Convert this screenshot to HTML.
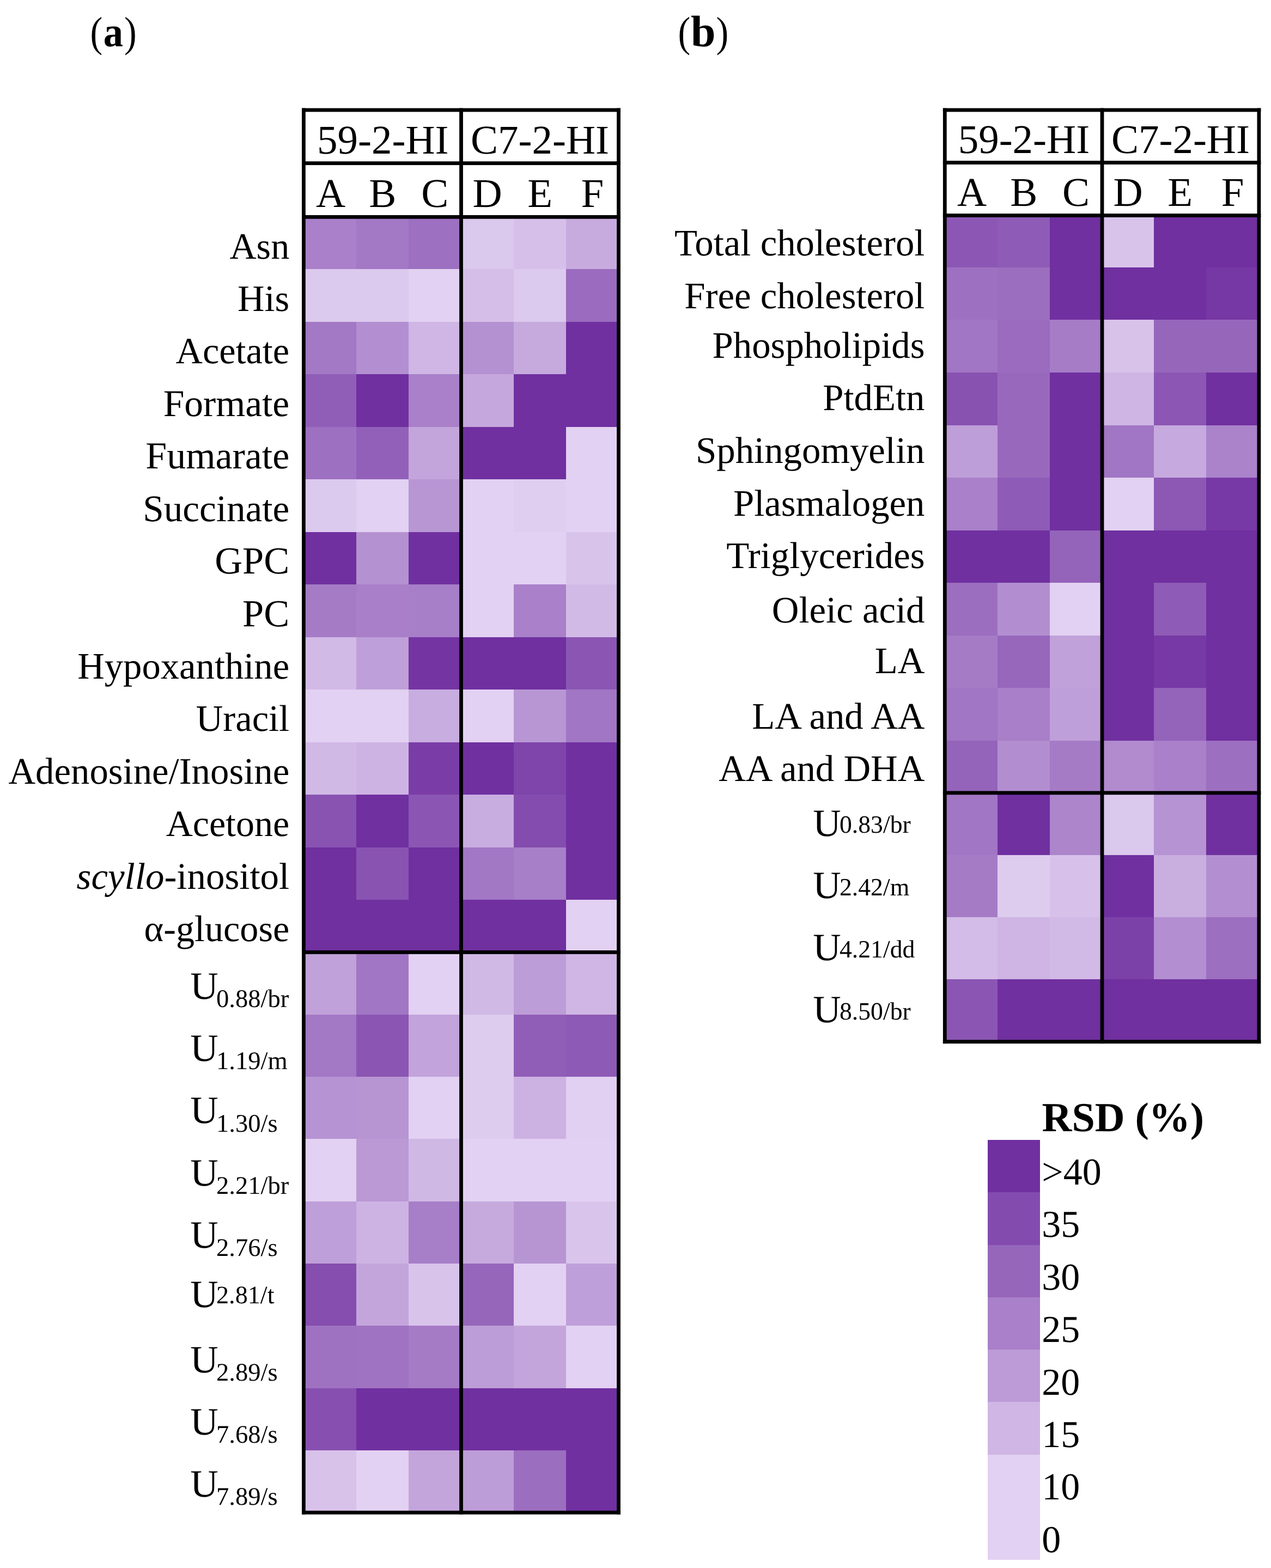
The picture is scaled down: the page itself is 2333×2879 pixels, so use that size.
<!DOCTYPE html>
<html lang="en">
<head>
<meta charset="utf-8">
<title>RSD heat maps</title>
<style>
html,body{margin:0;padding:0;background:#fff;}
body{width:2333px;height:2879px;overflow:hidden;}
svg{display:block;}
svg text{font-family:"Liberation Serif", "DejaVu Serif", serif;fill:#000;}
</style>
</head>
<body>
<svg width="2333" height="2879" viewBox="0 0 2333 2879" text-rendering="geometricPrecision">
<rect x="557.40" y="397.50" width="97.10" height="97.10" fill="#A980C9" shape-rendering="crispEdges"/>
<rect x="653.90" y="397.50" width="96.50" height="97.10" fill="#A378C5" shape-rendering="crispEdges"/>
<rect x="749.80" y="397.50" width="97.30" height="97.10" fill="#9E70C1" shape-rendering="crispEdges"/>
<rect x="846.50" y="397.50" width="97.00" height="97.10" fill="#DBC8ED" shape-rendering="crispEdges"/>
<rect x="942.90" y="397.50" width="96.90" height="97.10" fill="#D6C0E9" shape-rendering="crispEdges"/>
<rect x="1039.20" y="397.50" width="96.90" height="97.10" fill="#C7ABDF" shape-rendering="crispEdges"/>
<rect x="557.40" y="494.00" width="97.10" height="97.10" fill="#DCC9EE" shape-rendering="crispEdges"/>
<rect x="653.90" y="494.00" width="96.50" height="97.10" fill="#DCC9EE" shape-rendering="crispEdges"/>
<rect x="749.80" y="494.00" width="97.30" height="97.10" fill="#E2D1F2" shape-rendering="crispEdges"/>
<rect x="846.50" y="494.00" width="97.00" height="97.10" fill="#D5BEE8" shape-rendering="crispEdges"/>
<rect x="942.90" y="494.00" width="96.90" height="97.10" fill="#DCC9EE" shape-rendering="crispEdges"/>
<rect x="1039.20" y="494.00" width="96.90" height="97.10" fill="#9A6BBE" shape-rendering="crispEdges"/>
<rect x="557.40" y="590.50" width="97.10" height="97.10" fill="#A378C5" shape-rendering="crispEdges"/>
<rect x="653.90" y="590.50" width="96.50" height="97.10" fill="#B38FD1" shape-rendering="crispEdges"/>
<rect x="749.80" y="590.50" width="97.30" height="97.10" fill="#CFB6E4" shape-rendering="crispEdges"/>
<rect x="846.50" y="590.50" width="97.00" height="97.10" fill="#B491D1" shape-rendering="crispEdges"/>
<rect x="942.90" y="590.50" width="96.90" height="97.10" fill="#C6AADE" shape-rendering="crispEdges"/>
<rect x="1039.20" y="590.50" width="96.90" height="97.10" fill="#7030A0" shape-rendering="crispEdges"/>
<rect x="557.40" y="687.00" width="97.10" height="97.10" fill="#905EB7" shape-rendering="crispEdges"/>
<rect x="653.90" y="687.00" width="96.50" height="97.10" fill="#7030A0" shape-rendering="crispEdges"/>
<rect x="749.80" y="687.00" width="97.30" height="97.10" fill="#A980C9" shape-rendering="crispEdges"/>
<rect x="846.50" y="687.00" width="97.00" height="97.10" fill="#C5A7DD" shape-rendering="crispEdges"/>
<rect x="942.90" y="687.00" width="96.90" height="97.10" fill="#7030A0" shape-rendering="crispEdges"/>
<rect x="1039.20" y="687.00" width="96.90" height="97.10" fill="#7030A0" shape-rendering="crispEdges"/>
<rect x="557.40" y="783.50" width="97.10" height="97.10" fill="#9E70C1" shape-rendering="crispEdges"/>
<rect x="653.90" y="783.50" width="96.50" height="97.10" fill="#9260B9" shape-rendering="crispEdges"/>
<rect x="749.80" y="783.50" width="97.30" height="97.10" fill="#C3A5DB" shape-rendering="crispEdges"/>
<rect x="846.50" y="783.50" width="97.00" height="97.10" fill="#7030A0" shape-rendering="crispEdges"/>
<rect x="942.90" y="783.50" width="96.90" height="97.10" fill="#7030A0" shape-rendering="crispEdges"/>
<rect x="1039.20" y="783.50" width="96.90" height="97.10" fill="#E2D1F2" shape-rendering="crispEdges"/>
<rect x="557.40" y="880.00" width="97.10" height="97.10" fill="#DCC9EE" shape-rendering="crispEdges"/>
<rect x="653.90" y="880.00" width="96.50" height="97.10" fill="#E2D1F2" shape-rendering="crispEdges"/>
<rect x="749.80" y="880.00" width="97.30" height="97.10" fill="#B896D4" shape-rendering="crispEdges"/>
<rect x="846.50" y="880.00" width="97.00" height="97.10" fill="#E2D1F2" shape-rendering="crispEdges"/>
<rect x="942.90" y="880.00" width="96.90" height="97.10" fill="#E0CEF1" shape-rendering="crispEdges"/>
<rect x="1039.20" y="880.00" width="96.90" height="97.10" fill="#E2D1F2" shape-rendering="crispEdges"/>
<rect x="557.40" y="976.50" width="97.10" height="97.10" fill="#7030A0" shape-rendering="crispEdges"/>
<rect x="653.90" y="976.50" width="96.50" height="97.10" fill="#B491D1" shape-rendering="crispEdges"/>
<rect x="749.80" y="976.50" width="97.30" height="97.10" fill="#7030A0" shape-rendering="crispEdges"/>
<rect x="846.50" y="976.50" width="97.00" height="97.10" fill="#E2D1F2" shape-rendering="crispEdges"/>
<rect x="942.90" y="976.50" width="96.90" height="97.10" fill="#E2D1F2" shape-rendering="crispEdges"/>
<rect x="1039.20" y="976.50" width="96.90" height="97.10" fill="#D8C4EB" shape-rendering="crispEdges"/>
<rect x="557.40" y="1073.00" width="97.10" height="97.10" fill="#A57BC6" shape-rendering="crispEdges"/>
<rect x="653.90" y="1073.00" width="96.50" height="97.10" fill="#A87FC8" shape-rendering="crispEdges"/>
<rect x="749.80" y="1073.00" width="97.30" height="97.10" fill="#A77EC8" shape-rendering="crispEdges"/>
<rect x="846.50" y="1073.00" width="97.00" height="97.10" fill="#E2D1F2" shape-rendering="crispEdges"/>
<rect x="942.90" y="1073.00" width="96.90" height="97.10" fill="#A980C9" shape-rendering="crispEdges"/>
<rect x="1039.20" y="1073.00" width="96.90" height="97.10" fill="#D2BAE6" shape-rendering="crispEdges"/>
<rect x="557.40" y="1169.50" width="97.10" height="97.10" fill="#D2BAE6" shape-rendering="crispEdges"/>
<rect x="653.90" y="1169.50" width="96.50" height="97.10" fill="#BF9FD9" shape-rendering="crispEdges"/>
<rect x="749.80" y="1169.50" width="97.30" height="97.10" fill="#7435A3" shape-rendering="crispEdges"/>
<rect x="846.50" y="1169.50" width="97.00" height="97.10" fill="#7030A0" shape-rendering="crispEdges"/>
<rect x="942.90" y="1169.50" width="96.90" height="97.10" fill="#7030A0" shape-rendering="crispEdges"/>
<rect x="1039.20" y="1169.50" width="96.90" height="97.10" fill="#8B56B3" shape-rendering="crispEdges"/>
<rect x="557.40" y="1266.00" width="97.10" height="97.10" fill="#E2D1F2" shape-rendering="crispEdges"/>
<rect x="653.90" y="1266.00" width="96.50" height="97.10" fill="#E2D1F2" shape-rendering="crispEdges"/>
<rect x="749.80" y="1266.00" width="97.30" height="97.10" fill="#C8ADE0" shape-rendering="crispEdges"/>
<rect x="846.50" y="1266.00" width="97.00" height="97.10" fill="#E2D1F2" shape-rendering="crispEdges"/>
<rect x="942.90" y="1266.00" width="96.90" height="97.10" fill="#B896D4" shape-rendering="crispEdges"/>
<rect x="1039.20" y="1266.00" width="96.90" height="97.10" fill="#A176C4" shape-rendering="crispEdges"/>
<rect x="557.40" y="1362.50" width="97.10" height="97.10" fill="#D1B9E6" shape-rendering="crispEdges"/>
<rect x="653.90" y="1362.50" width="96.50" height="97.10" fill="#CDB3E3" shape-rendering="crispEdges"/>
<rect x="749.80" y="1362.50" width="97.30" height="97.10" fill="#7A3DA7" shape-rendering="crispEdges"/>
<rect x="846.50" y="1362.50" width="97.00" height="97.10" fill="#7030A0" shape-rendering="crispEdges"/>
<rect x="942.90" y="1362.50" width="96.90" height="97.10" fill="#7F45AB" shape-rendering="crispEdges"/>
<rect x="1039.20" y="1362.50" width="96.90" height="97.10" fill="#7030A0" shape-rendering="crispEdges"/>
<rect x="557.40" y="1459.00" width="97.10" height="97.10" fill="#8953B2" shape-rendering="crispEdges"/>
<rect x="653.90" y="1459.00" width="96.50" height="97.10" fill="#7030A0" shape-rendering="crispEdges"/>
<rect x="749.80" y="1459.00" width="97.30" height="97.10" fill="#8B56B3" shape-rendering="crispEdges"/>
<rect x="846.50" y="1459.00" width="97.00" height="97.10" fill="#C8ADE0" shape-rendering="crispEdges"/>
<rect x="942.90" y="1459.00" width="96.90" height="97.10" fill="#844CAE" shape-rendering="crispEdges"/>
<rect x="1039.20" y="1459.00" width="96.90" height="97.10" fill="#7030A0" shape-rendering="crispEdges"/>
<rect x="557.40" y="1555.50" width="97.10" height="97.10" fill="#7030A0" shape-rendering="crispEdges"/>
<rect x="653.90" y="1555.50" width="96.50" height="97.10" fill="#8953B2" shape-rendering="crispEdges"/>
<rect x="749.80" y="1555.50" width="97.30" height="97.10" fill="#7030A0" shape-rendering="crispEdges"/>
<rect x="846.50" y="1555.50" width="97.00" height="97.10" fill="#A277C4" shape-rendering="crispEdges"/>
<rect x="942.90" y="1555.50" width="96.90" height="97.10" fill="#A77EC8" shape-rendering="crispEdges"/>
<rect x="1039.20" y="1555.50" width="96.90" height="97.10" fill="#7030A0" shape-rendering="crispEdges"/>
<rect x="557.40" y="1652.00" width="97.10" height="97.10" fill="#7030A0" shape-rendering="crispEdges"/>
<rect x="653.90" y="1652.00" width="96.50" height="97.10" fill="#7030A0" shape-rendering="crispEdges"/>
<rect x="749.80" y="1652.00" width="97.30" height="97.10" fill="#7030A0" shape-rendering="crispEdges"/>
<rect x="846.50" y="1652.00" width="97.00" height="97.10" fill="#7030A0" shape-rendering="crispEdges"/>
<rect x="942.90" y="1652.00" width="96.90" height="97.10" fill="#7030A0" shape-rendering="crispEdges"/>
<rect x="1039.20" y="1652.00" width="96.90" height="97.10" fill="#E2D1F2" shape-rendering="crispEdges"/>
<rect x="557.40" y="1748.40" width="97.10" height="114.90" fill="#C0A1D9" shape-rendering="crispEdges"/>
<rect x="653.90" y="1748.40" width="96.50" height="114.90" fill="#A176C4" shape-rendering="crispEdges"/>
<rect x="749.80" y="1748.40" width="97.30" height="114.90" fill="#E2D1F2" shape-rendering="crispEdges"/>
<rect x="846.50" y="1748.40" width="97.00" height="114.90" fill="#D1B9E6" shape-rendering="crispEdges"/>
<rect x="942.90" y="1748.40" width="96.90" height="114.90" fill="#BD9DD7" shape-rendering="crispEdges"/>
<rect x="1039.20" y="1748.40" width="96.90" height="114.90" fill="#CFB6E4" shape-rendering="crispEdges"/>
<rect x="557.40" y="1862.70" width="97.10" height="114.90" fill="#A378C5" shape-rendering="crispEdges"/>
<rect x="653.90" y="1862.70" width="96.50" height="114.90" fill="#8B56B3" shape-rendering="crispEdges"/>
<rect x="749.80" y="1862.70" width="97.30" height="114.90" fill="#C2A3DB" shape-rendering="crispEdges"/>
<rect x="846.50" y="1862.70" width="97.00" height="114.90" fill="#DECCEF" shape-rendering="crispEdges"/>
<rect x="942.90" y="1862.70" width="96.90" height="114.90" fill="#905EB7" shape-rendering="crispEdges"/>
<rect x="1039.20" y="1862.70" width="96.90" height="114.90" fill="#8D5AB5" shape-rendering="crispEdges"/>
<rect x="557.40" y="1977.00" width="97.10" height="114.90" fill="#B693D3" shape-rendering="crispEdges"/>
<rect x="653.90" y="1977.00" width="96.50" height="114.90" fill="#B795D3" shape-rendering="crispEdges"/>
<rect x="749.80" y="1977.00" width="97.30" height="114.90" fill="#E2D1F2" shape-rendering="crispEdges"/>
<rect x="846.50" y="1977.00" width="97.00" height="114.90" fill="#DECCEF" shape-rendering="crispEdges"/>
<rect x="942.90" y="1977.00" width="96.90" height="114.90" fill="#CCB2E2" shape-rendering="crispEdges"/>
<rect x="1039.20" y="1977.00" width="96.90" height="114.90" fill="#E1D0F1" shape-rendering="crispEdges"/>
<rect x="557.40" y="2091.30" width="97.10" height="114.90" fill="#E2D1F2" shape-rendering="crispEdges"/>
<rect x="653.90" y="2091.30" width="96.50" height="114.90" fill="#BA99D5" shape-rendering="crispEdges"/>
<rect x="749.80" y="2091.30" width="97.30" height="114.90" fill="#D0B8E5" shape-rendering="crispEdges"/>
<rect x="846.50" y="2091.30" width="97.00" height="114.90" fill="#E2D1F2" shape-rendering="crispEdges"/>
<rect x="942.90" y="2091.30" width="96.90" height="114.90" fill="#E2D1F2" shape-rendering="crispEdges"/>
<rect x="1039.20" y="2091.30" width="96.90" height="114.90" fill="#E2D1F2" shape-rendering="crispEdges"/>
<rect x="557.40" y="2205.60" width="97.10" height="114.90" fill="#BF9FD9" shape-rendering="crispEdges"/>
<rect x="653.90" y="2205.60" width="96.50" height="114.90" fill="#CDB3E3" shape-rendering="crispEdges"/>
<rect x="749.80" y="2205.60" width="97.30" height="114.90" fill="#A77EC8" shape-rendering="crispEdges"/>
<rect x="846.50" y="2205.60" width="97.00" height="114.90" fill="#C6AADE" shape-rendering="crispEdges"/>
<rect x="942.90" y="2205.60" width="96.90" height="114.90" fill="#B795D3" shape-rendering="crispEdges"/>
<rect x="1039.20" y="2205.60" width="96.90" height="114.90" fill="#D9C5EC" shape-rendering="crispEdges"/>
<rect x="557.40" y="2319.90" width="97.10" height="114.90" fill="#854EAF" shape-rendering="crispEdges"/>
<rect x="653.90" y="2319.90" width="96.50" height="114.90" fill="#C3A5DB" shape-rendering="crispEdges"/>
<rect x="749.80" y="2319.90" width="97.30" height="114.90" fill="#D8C4EB" shape-rendering="crispEdges"/>
<rect x="846.50" y="2319.90" width="97.00" height="114.90" fill="#9666BB" shape-rendering="crispEdges"/>
<rect x="942.90" y="2319.90" width="96.90" height="114.90" fill="#E2D1F2" shape-rendering="crispEdges"/>
<rect x="1039.20" y="2319.90" width="96.90" height="114.90" fill="#BF9FD9" shape-rendering="crispEdges"/>
<rect x="557.40" y="2434.20" width="97.10" height="114.90" fill="#9F72C1" shape-rendering="crispEdges"/>
<rect x="653.90" y="2434.20" width="96.50" height="114.90" fill="#A073C2" shape-rendering="crispEdges"/>
<rect x="749.80" y="2434.20" width="97.30" height="114.90" fill="#A57BC6" shape-rendering="crispEdges"/>
<rect x="846.50" y="2434.20" width="97.00" height="114.90" fill="#BD9DD7" shape-rendering="crispEdges"/>
<rect x="942.90" y="2434.20" width="96.90" height="114.90" fill="#C3A5DB" shape-rendering="crispEdges"/>
<rect x="1039.20" y="2434.20" width="96.90" height="114.90" fill="#E2D1F2" shape-rendering="crispEdges"/>
<rect x="557.40" y="2548.50" width="97.10" height="114.90" fill="#8750B0" shape-rendering="crispEdges"/>
<rect x="653.90" y="2548.50" width="96.50" height="114.90" fill="#7030A0" shape-rendering="crispEdges"/>
<rect x="749.80" y="2548.50" width="97.30" height="114.90" fill="#7030A0" shape-rendering="crispEdges"/>
<rect x="846.50" y="2548.50" width="97.00" height="114.90" fill="#7030A0" shape-rendering="crispEdges"/>
<rect x="942.90" y="2548.50" width="96.90" height="114.90" fill="#7030A0" shape-rendering="crispEdges"/>
<rect x="1039.20" y="2548.50" width="96.90" height="114.90" fill="#7030A0" shape-rendering="crispEdges"/>
<rect x="557.40" y="2662.80" width="97.10" height="114.90" fill="#D8C2EA" shape-rendering="crispEdges"/>
<rect x="653.90" y="2662.80" width="96.50" height="114.90" fill="#E2D1F2" shape-rendering="crispEdges"/>
<rect x="749.80" y="2662.80" width="97.30" height="114.90" fill="#C3A5DB" shape-rendering="crispEdges"/>
<rect x="846.50" y="2662.80" width="97.00" height="114.90" fill="#BD9DD7" shape-rendering="crispEdges"/>
<rect x="942.90" y="2662.80" width="96.90" height="114.90" fill="#9C6EBF" shape-rendering="crispEdges"/>
<rect x="1039.20" y="2662.80" width="96.90" height="114.90" fill="#7030A0" shape-rendering="crispEdges"/>
<rect x="557.40" y="202.00" width="578.10" height="196.40" fill="#fff" shape-rendering="crispEdges"/>
<rect x="554.00" y="198.60" width="584.90" height="6.80" fill="#000"/>
<rect x="554.00" y="296.30" width="584.90" height="6.80" fill="#000"/>
<rect x="554.00" y="395.00" width="584.90" height="6.80" fill="#000"/>
<rect x="554.00" y="1745.00" width="584.90" height="6.80" fill="#000"/>
<rect x="554.00" y="2773.80" width="584.90" height="6.80" fill="#000"/>
<rect x="554.00" y="198.60" width="6.80" height="2582.00" fill="#000"/>
<rect x="843.10" y="198.60" width="6.80" height="2582.00" fill="#000"/>
<rect x="1132.10" y="198.60" width="6.80" height="2582.00" fill="#000"/>
<text x="702.75" y="282.00" font-size="75.00" text-anchor="middle">59-2-HI</text>
<text x="991.00" y="282.00" font-size="75.00" text-anchor="middle">C7-2-HI</text>
<text x="607.05" y="380.00" font-size="75.00" text-anchor="middle">A</text>
<text x="702.15" y="380.00" font-size="75.00" text-anchor="middle">B</text>
<text x="798.15" y="380.00" font-size="75.00" text-anchor="middle">C</text>
<text x="894.70" y="380.00" font-size="75.00" text-anchor="middle">D</text>
<text x="991.05" y="380.00" font-size="75.00" text-anchor="middle">E</text>
<text x="1087.35" y="380.00" font-size="75.00" text-anchor="middle">F</text>
<rect x="1734.30" y="394.30" width="97.20" height="97.15" fill="#8C57B4" shape-rendering="crispEdges"/>
<rect x="1830.90" y="394.30" width="96.70" height="97.15" fill="#8E5BB6" shape-rendering="crispEdges"/>
<rect x="1927.00" y="394.30" width="96.60" height="97.15" fill="#7030A0" shape-rendering="crispEdges"/>
<rect x="2023.00" y="394.30" width="95.80" height="97.15" fill="#D8C4EB" shape-rendering="crispEdges"/>
<rect x="2118.20" y="394.30" width="96.70" height="97.15" fill="#7030A0" shape-rendering="crispEdges"/>
<rect x="2214.30" y="394.30" width="97.20" height="97.15" fill="#7030A0" shape-rendering="crispEdges"/>
<rect x="1734.30" y="490.85" width="97.20" height="97.15" fill="#9E70C1" shape-rendering="crispEdges"/>
<rect x="1830.90" y="490.85" width="96.70" height="97.15" fill="#9C6EBF" shape-rendering="crispEdges"/>
<rect x="1927.00" y="490.85" width="96.60" height="97.15" fill="#7030A0" shape-rendering="crispEdges"/>
<rect x="2023.00" y="490.85" width="95.80" height="97.15" fill="#7030A0" shape-rendering="crispEdges"/>
<rect x="2118.20" y="490.85" width="96.70" height="97.15" fill="#7030A0" shape-rendering="crispEdges"/>
<rect x="2214.30" y="490.85" width="97.20" height="97.15" fill="#7638A4" shape-rendering="crispEdges"/>
<rect x="1734.30" y="587.40" width="97.20" height="97.15" fill="#A176C4" shape-rendering="crispEdges"/>
<rect x="1830.90" y="587.40" width="96.70" height="97.15" fill="#9A6BBE" shape-rendering="crispEdges"/>
<rect x="1927.00" y="587.40" width="96.60" height="97.15" fill="#A67CC7" shape-rendering="crispEdges"/>
<rect x="2023.00" y="587.40" width="95.80" height="97.15" fill="#D8C2EA" shape-rendering="crispEdges"/>
<rect x="2118.20" y="587.40" width="96.70" height="97.15" fill="#9666BB" shape-rendering="crispEdges"/>
<rect x="2214.30" y="587.40" width="97.20" height="97.15" fill="#9666BB" shape-rendering="crispEdges"/>
<rect x="1734.30" y="683.95" width="97.20" height="97.15" fill="#8852B1" shape-rendering="crispEdges"/>
<rect x="1830.90" y="683.95" width="96.70" height="97.15" fill="#9868BD" shape-rendering="crispEdges"/>
<rect x="1927.00" y="683.95" width="96.60" height="97.15" fill="#7030A0" shape-rendering="crispEdges"/>
<rect x="2023.00" y="683.95" width="95.80" height="97.15" fill="#CEB5E4" shape-rendering="crispEdges"/>
<rect x="2118.20" y="683.95" width="96.70" height="97.15" fill="#8C57B4" shape-rendering="crispEdges"/>
<rect x="2214.30" y="683.95" width="97.20" height="97.15" fill="#7030A0" shape-rendering="crispEdges"/>
<rect x="1734.30" y="780.50" width="97.20" height="97.15" fill="#BE9ED8" shape-rendering="crispEdges"/>
<rect x="1830.90" y="780.50" width="96.70" height="97.15" fill="#9868BD" shape-rendering="crispEdges"/>
<rect x="1927.00" y="780.50" width="96.60" height="97.15" fill="#7030A0" shape-rendering="crispEdges"/>
<rect x="2023.00" y="780.50" width="95.80" height="97.15" fill="#A176C4" shape-rendering="crispEdges"/>
<rect x="2118.20" y="780.50" width="96.70" height="97.15" fill="#C6A9DE" shape-rendering="crispEdges"/>
<rect x="2214.30" y="780.50" width="97.20" height="97.15" fill="#AB83CA" shape-rendering="crispEdges"/>
<rect x="1734.30" y="877.05" width="97.20" height="97.15" fill="#A980C9" shape-rendering="crispEdges"/>
<rect x="1830.90" y="877.05" width="96.70" height="97.15" fill="#8E5BB6" shape-rendering="crispEdges"/>
<rect x="1927.00" y="877.05" width="96.60" height="97.15" fill="#7030A0" shape-rendering="crispEdges"/>
<rect x="2023.00" y="877.05" width="95.80" height="97.15" fill="#E2D1F2" shape-rendering="crispEdges"/>
<rect x="2118.20" y="877.05" width="96.70" height="97.15" fill="#8C58B4" shape-rendering="crispEdges"/>
<rect x="2214.30" y="877.05" width="97.20" height="97.15" fill="#7739A5" shape-rendering="crispEdges"/>
<rect x="1734.30" y="973.60" width="97.20" height="97.15" fill="#7030A0" shape-rendering="crispEdges"/>
<rect x="1830.90" y="973.60" width="96.70" height="97.15" fill="#7030A0" shape-rendering="crispEdges"/>
<rect x="1927.00" y="973.60" width="96.60" height="97.15" fill="#9463BA" shape-rendering="crispEdges"/>
<rect x="2023.00" y="973.60" width="95.80" height="97.15" fill="#7030A0" shape-rendering="crispEdges"/>
<rect x="2118.20" y="973.60" width="96.70" height="97.15" fill="#7030A0" shape-rendering="crispEdges"/>
<rect x="2214.30" y="973.60" width="97.20" height="97.15" fill="#7030A0" shape-rendering="crispEdges"/>
<rect x="1734.30" y="1070.15" width="97.20" height="97.15" fill="#9C6EBF" shape-rendering="crispEdges"/>
<rect x="1830.90" y="1070.15" width="96.70" height="97.15" fill="#B28ED0" shape-rendering="crispEdges"/>
<rect x="1927.00" y="1070.15" width="96.60" height="97.15" fill="#E2D1F2" shape-rendering="crispEdges"/>
<rect x="2023.00" y="1070.15" width="95.80" height="97.15" fill="#7030A0" shape-rendering="crispEdges"/>
<rect x="2118.20" y="1070.15" width="96.70" height="97.15" fill="#8E5BB6" shape-rendering="crispEdges"/>
<rect x="2214.30" y="1070.15" width="97.20" height="97.15" fill="#7030A0" shape-rendering="crispEdges"/>
<rect x="1734.30" y="1166.70" width="97.20" height="97.15" fill="#A57BC6" shape-rendering="crispEdges"/>
<rect x="1830.90" y="1166.70" width="96.70" height="97.15" fill="#9767BC" shape-rendering="crispEdges"/>
<rect x="1927.00" y="1166.70" width="96.60" height="97.15" fill="#C0A1D9" shape-rendering="crispEdges"/>
<rect x="2023.00" y="1166.70" width="95.80" height="97.15" fill="#7030A0" shape-rendering="crispEdges"/>
<rect x="2118.20" y="1166.70" width="96.70" height="97.15" fill="#7739A5" shape-rendering="crispEdges"/>
<rect x="2214.30" y="1166.70" width="97.20" height="97.15" fill="#7030A0" shape-rendering="crispEdges"/>
<rect x="1734.30" y="1263.25" width="97.20" height="97.15" fill="#A176C4" shape-rendering="crispEdges"/>
<rect x="1830.90" y="1263.25" width="96.70" height="97.15" fill="#A87FC8" shape-rendering="crispEdges"/>
<rect x="1927.00" y="1263.25" width="96.60" height="97.15" fill="#BF9FD9" shape-rendering="crispEdges"/>
<rect x="2023.00" y="1263.25" width="95.80" height="97.15" fill="#7030A0" shape-rendering="crispEdges"/>
<rect x="2118.20" y="1263.25" width="96.70" height="97.15" fill="#9463BA" shape-rendering="crispEdges"/>
<rect x="2214.30" y="1263.25" width="97.20" height="97.15" fill="#7030A0" shape-rendering="crispEdges"/>
<rect x="1734.30" y="1359.80" width="97.20" height="97.15" fill="#9463BA" shape-rendering="crispEdges"/>
<rect x="1830.90" y="1359.80" width="96.70" height="97.15" fill="#B28ED0" shape-rendering="crispEdges"/>
<rect x="1927.00" y="1359.80" width="96.60" height="97.15" fill="#A57BC6" shape-rendering="crispEdges"/>
<rect x="2023.00" y="1359.80" width="95.80" height="97.15" fill="#B18BCE" shape-rendering="crispEdges"/>
<rect x="2118.20" y="1359.80" width="96.70" height="97.15" fill="#A980C9" shape-rendering="crispEdges"/>
<rect x="2214.30" y="1359.80" width="97.20" height="97.15" fill="#9D6FC0" shape-rendering="crispEdges"/>
<rect x="1734.30" y="1455.80" width="97.20" height="114.80" fill="#A176C4" shape-rendering="crispEdges"/>
<rect x="1830.90" y="1455.80" width="96.70" height="114.80" fill="#7030A0" shape-rendering="crispEdges"/>
<rect x="1927.00" y="1455.80" width="96.60" height="114.80" fill="#AC85CB" shape-rendering="crispEdges"/>
<rect x="2023.00" y="1455.80" width="95.80" height="114.80" fill="#DBC8ED" shape-rendering="crispEdges"/>
<rect x="2118.20" y="1455.80" width="96.70" height="114.80" fill="#B693D3" shape-rendering="crispEdges"/>
<rect x="2214.30" y="1455.80" width="97.20" height="114.80" fill="#7030A0" shape-rendering="crispEdges"/>
<rect x="1734.30" y="1570.00" width="97.20" height="114.80" fill="#A57BC6" shape-rendering="crispEdges"/>
<rect x="1830.90" y="1570.00" width="96.70" height="114.80" fill="#DECCEF" shape-rendering="crispEdges"/>
<rect x="1927.00" y="1570.00" width="96.60" height="114.80" fill="#D7C1EA" shape-rendering="crispEdges"/>
<rect x="2023.00" y="1570.00" width="95.80" height="114.80" fill="#7030A0" shape-rendering="crispEdges"/>
<rect x="2118.20" y="1570.00" width="96.70" height="114.80" fill="#C9AEE0" shape-rendering="crispEdges"/>
<rect x="2214.30" y="1570.00" width="97.20" height="114.80" fill="#B38FD1" shape-rendering="crispEdges"/>
<rect x="1734.30" y="1684.20" width="97.20" height="114.80" fill="#D3BCE7" shape-rendering="crispEdges"/>
<rect x="1830.90" y="1684.20" width="96.70" height="114.80" fill="#CEB5E4" shape-rendering="crispEdges"/>
<rect x="1927.00" y="1684.20" width="96.60" height="114.80" fill="#D2BAE6" shape-rendering="crispEdges"/>
<rect x="2023.00" y="1684.20" width="95.80" height="114.80" fill="#7C41A9" shape-rendering="crispEdges"/>
<rect x="2118.20" y="1684.20" width="96.70" height="114.80" fill="#B38FD1" shape-rendering="crispEdges"/>
<rect x="2214.30" y="1684.20" width="97.20" height="114.80" fill="#9D6FC0" shape-rendering="crispEdges"/>
<rect x="1734.30" y="1798.40" width="97.20" height="114.80" fill="#8B56B3" shape-rendering="crispEdges"/>
<rect x="1830.90" y="1798.40" width="96.70" height="114.80" fill="#7030A0" shape-rendering="crispEdges"/>
<rect x="1927.00" y="1798.40" width="96.60" height="114.80" fill="#7030A0" shape-rendering="crispEdges"/>
<rect x="2023.00" y="1798.40" width="95.80" height="114.80" fill="#7030A0" shape-rendering="crispEdges"/>
<rect x="2118.20" y="1798.40" width="96.70" height="114.80" fill="#7030A0" shape-rendering="crispEdges"/>
<rect x="2214.30" y="1798.40" width="97.20" height="114.80" fill="#7030A0" shape-rendering="crispEdges"/>
<rect x="1734.30" y="202.00" width="576.60" height="193.60" fill="#fff" shape-rendering="crispEdges"/>
<rect x="1730.90" y="198.60" width="583.40" height="6.80" fill="#000"/>
<rect x="1730.90" y="295.20" width="583.40" height="6.80" fill="#000"/>
<rect x="1730.90" y="392.20" width="583.40" height="6.80" fill="#000"/>
<rect x="1730.90" y="1452.40" width="583.40" height="6.80" fill="#000"/>
<rect x="1730.90" y="1909.30" width="583.40" height="6.80" fill="#000"/>
<rect x="1730.90" y="198.60" width="6.80" height="1717.50" fill="#000"/>
<rect x="2019.60" y="198.60" width="6.80" height="1717.50" fill="#000"/>
<rect x="2307.50" y="198.60" width="6.80" height="1717.50" fill="#000"/>
<text x="1879.45" y="281.20" font-size="75.00" text-anchor="middle">59-2-HI</text>
<text x="2166.95" y="281.20" font-size="75.00" text-anchor="middle">C7-2-HI</text>
<text x="1784.00" y="378.10" font-size="75.00" text-anchor="middle">A</text>
<text x="1879.25" y="378.10" font-size="75.00" text-anchor="middle">B</text>
<text x="1975.00" y="378.10" font-size="75.00" text-anchor="middle">C</text>
<text x="2070.60" y="378.10" font-size="75.00" text-anchor="middle">D</text>
<text x="2166.25" y="378.10" font-size="75.00" text-anchor="middle">E</text>
<text x="2262.60" y="378.10" font-size="75.00" text-anchor="middle">F</text>
<text x="531.20" y="474.50" font-size="68.12" text-anchor="end">Asn</text>
<text x="531.20" y="570.94" font-size="68.47" text-anchor="end">His</text>
<text x="531.20" y="667.38" font-size="68.33" text-anchor="end">Acetate</text>
<text x="531.20" y="763.82" font-size="69.49" text-anchor="end">Formate</text>
<text x="531.20" y="860.26" font-size="69.86" text-anchor="end">Fumarate</text>
<text x="531.20" y="956.70" font-size="69.21" text-anchor="end">Succinate</text>
<text x="531.20" y="1053.14" font-size="70.41" text-anchor="end">GPC</text>
<text x="531.20" y="1149.58" font-size="70.40" text-anchor="end">PC</text>
<text x="531.20" y="1246.02" font-size="68.68" text-anchor="end">Hypoxanthine</text>
<text x="531.20" y="1342.46" font-size="68.59" text-anchor="end">Uracil</text>
<text x="531.20" y="1438.90" font-size="68.79" text-anchor="end">Adenosine/Inosine</text>
<text x="531.20" y="1535.34" font-size="68.02" text-anchor="end">Acetone</text>
<text x="531.20" y="1631.78" font-size="68.95" text-anchor="end"><tspan font-style="italic">scyllo</tspan>-inositol</text>
<text x="531.20" y="1728.22" font-size="68.16" text-anchor="end">α-glucose</text>
<text x="349.30" y="1833.90" font-size="71.20" text-anchor="start">U<tspan x="397.0" dy="15.3" font-size="46.6">0.88/br</tspan></text>
<text x="349.30" y="1948.17" font-size="71.20" text-anchor="start">U<tspan x="397.0" dy="15.3" font-size="46.6">1.19/m</tspan></text>
<text x="349.30" y="2062.44" font-size="71.20" text-anchor="start">U<tspan x="397.0" dy="15.3" font-size="46.6">1.30/s</tspan></text>
<text x="349.30" y="2176.71" font-size="71.20" text-anchor="start">U<tspan x="397.0" dy="15.3" font-size="46.6">2.21/br</tspan></text>
<text x="349.30" y="2290.98" font-size="71.20" text-anchor="start">U<tspan x="397.0" dy="15.3" font-size="46.6">2.76/s</tspan></text>
<text x="349.30" y="2399.60" font-size="71.20" text-anchor="start">U<tspan x="397.0" dy="-6.3" font-size="46.2">2.81/t</tspan></text>
<text x="349.30" y="2519.52" font-size="71.20" text-anchor="start">U<tspan x="397.0" dy="15.3" font-size="46.6">2.89/s</tspan></text>
<text x="349.30" y="2633.79" font-size="71.20" text-anchor="start">U<tspan x="397.0" dy="15.3" font-size="46.6">7.68/s</tspan></text>
<text x="349.30" y="2748.06" font-size="71.20" text-anchor="start">U<tspan x="397.0" dy="15.3" font-size="46.6">7.89/s</tspan></text>
<text x="1697.50" y="468.70" font-size="68.80" text-anchor="end">Total cholesterol</text>
<text x="1697.50" y="565.70" font-size="68.80" text-anchor="end">Free cholesterol</text>
<text x="1697.50" y="656.50" font-size="68.80" text-anchor="end">Phospholipids</text>
<text x="1697.50" y="753.30" font-size="68.80" text-anchor="end">PtdEtn</text>
<text x="1697.50" y="850.30" font-size="68.80" text-anchor="end">Sphingomyelin</text>
<text x="1697.50" y="946.80" font-size="68.80" text-anchor="end">Plasmalogen</text>
<text x="1697.50" y="1042.70" font-size="68.80" text-anchor="end">Triglycerides</text>
<text x="1697.50" y="1143.40" font-size="68.80" text-anchor="end">Oleic acid</text>
<text x="1697.50" y="1236.10" font-size="68.80" text-anchor="end">LA</text>
<text x="1697.50" y="1338.10" font-size="68.80" text-anchor="end">LA and AA</text>
<text x="1697.50" y="1434.00" font-size="68.80" text-anchor="end">AA and DHA</text>
<text x="1492.30" y="1534.80" font-size="71.20" text-anchor="start">U<tspan x="1541.0" dy="-5.6" font-size="45.7">0.83/br</tspan></text>
<text x="1492.30" y="1649.10" font-size="71.20" text-anchor="start">U<tspan x="1541.0" dy="-5.6" font-size="45.7">2.42/m</tspan></text>
<text x="1492.30" y="1763.30" font-size="71.20" text-anchor="start">U<tspan x="1541.0" dy="-5.6" font-size="45.7">4.21/dd</tspan></text>
<text x="1492.30" y="1877.40" font-size="71.20" text-anchor="start">U<tspan x="1541.0" dy="-5.6" font-size="45.7">8.50/br</tspan></text>
<rect x="1813.10" y="2092.90" width="95.90" height="96.80" fill="#7030A0" shape-rendering="crispEdges"/>
<rect x="1813.10" y="2189.20" width="95.90" height="96.80" fill="#834BAE" shape-rendering="crispEdges"/>
<rect x="1813.10" y="2285.50" width="95.90" height="96.80" fill="#9666BB" shape-rendering="crispEdges"/>
<rect x="1813.10" y="2381.80" width="95.90" height="96.80" fill="#A980C9" shape-rendering="crispEdges"/>
<rect x="1813.10" y="2478.10" width="95.90" height="96.80" fill="#BC9BD7" shape-rendering="crispEdges"/>
<rect x="1813.10" y="2574.40" width="95.90" height="96.80" fill="#CFB6E4" shape-rendering="crispEdges"/>
<rect x="1813.10" y="2670.70" width="95.90" height="96.80" fill="#E2D1F2" shape-rendering="crispEdges"/>
<rect x="1813.10" y="2767.00" width="95.90" height="96.80" fill="#E2D1F2" shape-rendering="crispEdges"/>
<text x="1912.30" y="2175.00" font-size="70.00" text-anchor="start">&gt;40</text>
<text x="1912.30" y="2271.40" font-size="70.00" text-anchor="start">35</text>
<text x="1912.30" y="2367.80" font-size="70.00" text-anchor="start">30</text>
<text x="1912.30" y="2464.20" font-size="70.00" text-anchor="start">25</text>
<text x="1912.30" y="2560.60" font-size="70.00" text-anchor="start">20</text>
<text x="1912.30" y="2657.00" font-size="70.00" text-anchor="start">15</text>
<text x="1912.30" y="2753.40" font-size="70.00" text-anchor="start">10</text>
<text x="1912.30" y="2849.80" font-size="70.00" text-anchor="start">0</text>
<text x="1912.50" y="2077.40" font-size="76.00" text-anchor="start" font-weight="bold">RSD (%)</text>
<text y="85" font-size="78"><tspan x="165.50" textLength="22.73" lengthAdjust="spacingAndGlyphs">(</tspan><tspan x="189.80" font-size="78.0" font-weight="bold" textLength="36.27" lengthAdjust="spacingAndGlyphs">a</tspan><tspan x="228.10" font-size="78" textLength="22.73" lengthAdjust="spacingAndGlyphs">)</tspan></text>
<text y="85" font-size="78"><tspan x="1244.50" textLength="22.73" lengthAdjust="spacingAndGlyphs">(</tspan><tspan x="1268.00" font-size="81.1" font-weight="bold" textLength="45.50" lengthAdjust="spacingAndGlyphs">b</tspan><tspan x="1314.60" font-size="78" textLength="22.73" lengthAdjust="spacingAndGlyphs">)</tspan></text>
</svg>
</body>
</html>
